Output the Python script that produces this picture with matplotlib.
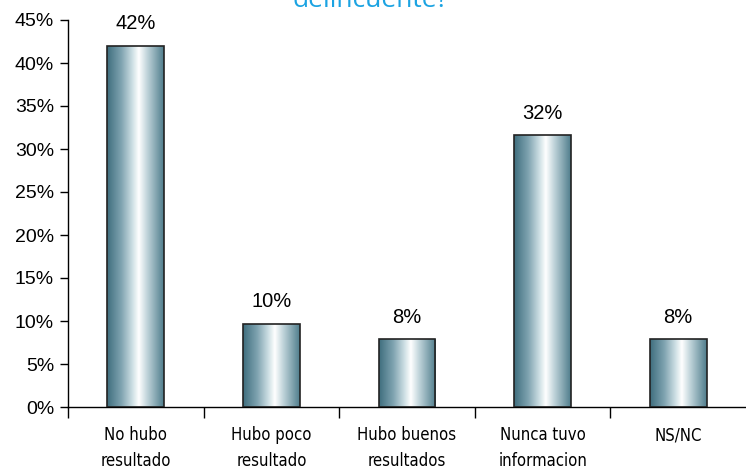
import matplotlib
matplotlib.use("Agg")
import matplotlib.pyplot as plt
import numpy as np
from matplotlib.colors import LinearSegmentedColormap
from matplotlib import font_manager

categories = ["No hubo\nresultado", "Hubo poco\nresultado", "Hubo buenos\nresultados",
              "Nunca tuvo\ninformacion", "NS/NC"]
values = [42.0, 9.7, 7.9, 31.6, 7.9]
value_labels = ["42%", "10%", "8%", "32%", "8%"]
yticks = [0, 5, 10, 15, 20, 25, 30, 35, 40, 45]
ytick_labels = [f"{v}%" for v in yticks]
title_text = "delincuente?"

names = {f.name for f in font_manager.fontManager.ttflist}
if "Liberation Sans Narrow" in names:
    xfont = dict(family="Liberation Sans Narrow", fontsize=13)
else:
    xfont = dict(family="DejaVu Sans", fontstretch="condensed", fontsize=12)

fig = plt.figure(figsize=(7.46, 4.69), dpi=100)
ax = fig.add_axes([68/746, 1-407/469, 678/746, 387/469])

cmap = LinearSegmentedColormap.from_list(
    "barg", [(0.0, "#3f6e7e"), (0.25, "#7fa3b0"), (0.45, "#cfe0e5"),
             (0.56, "#ffffff"), (0.7, "#c3d6dc"), (1.0, "#4f7d8c")])
grad = np.linspace(0, 1, 256).reshape(1, -1)

width = 0.42
x = np.arange(len(values))
bars = ax.bar(x, values, width=width, color="none", edgecolor="#222222", linewidth=1.2, zorder=3)
for b in bars:
    x0, y0 = b.get_x(), b.get_y()
    w, h = b.get_width(), b.get_height()
    im = ax.imshow(grad, cmap=cmap, extent=[x0, x0 + w, y0, y0 + h],
                   aspect="auto", zorder=2, interpolation="bilinear")
    im.set_clip_path(b)

for xi, v, lab in zip(x, values, value_labels):
    ax.annotate(lab, (xi, v), xytext=(0, 9), textcoords="offset points",
                ha="center", va="bottom", fontsize=14.5, family="Liberation Sans")

ax.set_xlim(-0.5, 4.5)
ax.set_ylim(0, 45)
ax.set_yticks(yticks)
ax.set_yticklabels(ytick_labels, fontsize=14, family="Liberation Sans")
ax.tick_params(axis="y", direction="out", length=6, width=1, pad=4)

ax.set_xticks(x)
ax.set_xticklabels(categories, linespacing=1.55, **xfont)
ax.tick_params(axis="x", which="major", length=0, pad=14)
ax.set_xticks(np.arange(-0.5, 4.5, 1), minor=True)
ax.tick_params(axis="x", which="minor", direction="out", length=8, width=1)

for s in ["top", "right"]:
    ax.spines[s].set_visible(False)
for s in ["left", "bottom"]:
    ax.spines[s].set_linewidth(1)

fig.text(0.496, 1 - 7/469, title_text, ha="center", va="baseline",
         fontsize=19, color="#1ba3e2", family="Open Sans")

fig.savefig("out.png", dpi=100)
